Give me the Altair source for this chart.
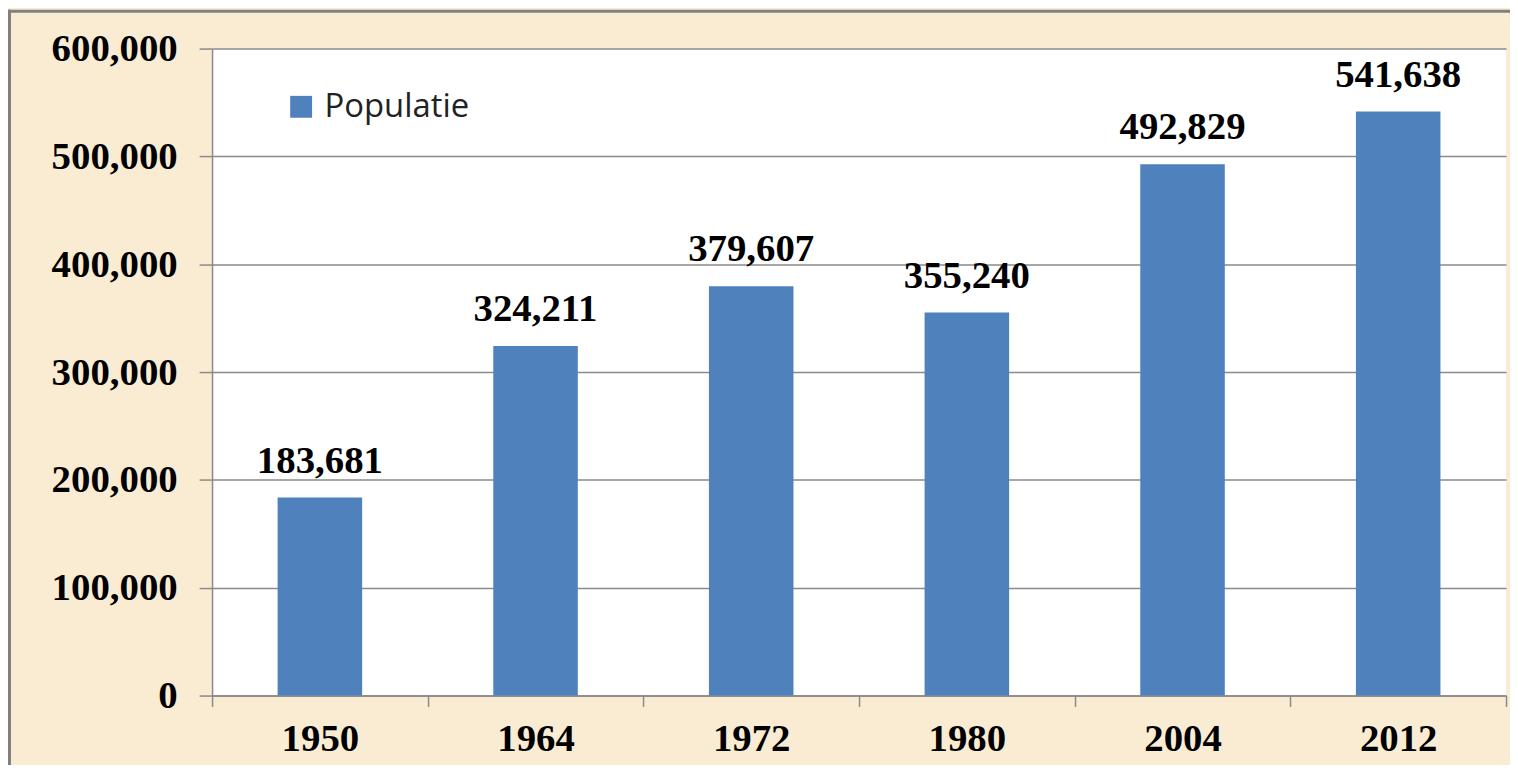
import altair as alt
import pandas as pd

years = ["1950", "1964", "1972", "1980", "2004", "2012"]
population = [183681, 324211, 379607, 355240, 492829, 541638]
series_name = "Populatie"
y_ticks = [0, 100000, 200000, 300000, 400000, 500000, 600000]

df = pd.DataFrame({"jaar": years, "populatie": population, "serie": [series_name] * len(years)})

GRAY = "#8a8a8a"
SERIF = "Liberation Serif"

x = alt.X("jaar:N", sort=years, title=None,
          scale=alt.Scale(paddingInner=0, paddingOuter=0),
          axis=alt.Axis(labelAngle=0, tickBand="extent", tickSize=11, labelPadding=13,
                        labelFont=SERIF, labelFontWeight="bold", labelFontSize=39,
                        labelColor="black", domainColor=GRAY, tickColor=GRAY,
                        domainWidth=1.5, tickWidth=1.5, grid=False))
y = alt.Y("populatie:Q", title=None,
          scale=alt.Scale(domain=[0, 600000], nice=False),
          axis=alt.Axis(values=y_ticks, format=",.0f", tickSize=13, labelPadding=22,
                        labelFont=SERIF, labelFontWeight="bold", labelFontSize=39,
                        labelColor="black", domainColor=GRAY, tickColor=GRAY,
                        gridColor=GRAY, gridWidth=1.5, domainWidth=1.5, tickWidth=1.5))

base = alt.Chart(df)

bars = base.mark_bar(width=alt.RelativeBandSize(0.392)).encode(
    x=x, y=y,
    color=alt.Color("serie:N", scale=alt.Scale(range=["#4F81BD"]),
                    legend=alt.Legend(title=None, orient="none", legendX=73, legendY=42,
                                      padding=0, symbolType="square", symbolSize=484,
                                      symbolStrokeWidth=0, labelFont="Open Sans",
                                      labelFontSize=33, labelColor="#222222",
                                      labelOffset=7)),
)

labels = base.mark_text(baseline="alphabetic", dy=-25, font=SERIF, fontWeight="bold",
                        fontSize=39, color="black").encode(
    x=x, y=y, text=alt.Text("populatie:Q", format=",")
)

frame_df = pd.DataFrame({"k": [0]})
top_border = alt.Chart(frame_df).mark_rule(color="#7f7f7f", strokeWidth=3).encode(
    x=alt.value(-205), x2=alt.value(1305), y=alt.value(-37.5))
left_border = alt.Chart(frame_df).mark_rule(color="#7f7f7f", strokeWidth=3).encode(
    x=alt.value(-203.5), y=alt.value(-39), y2=alt.value(729))

chart = alt.layer(bars, labels, top_border, left_border).properties(
    width=1300, height=650,
    autosize=alt.AutoSizeParams(type="none"),
    padding={"left": 205, "top": 39, "right": 4, "bottom": 68},
    background="#F9ECD3",
).configure_view(fill="white", strokeWidth=0)

chart.save("out.html", embed_options={"renderer": "svg", "actions": False})
